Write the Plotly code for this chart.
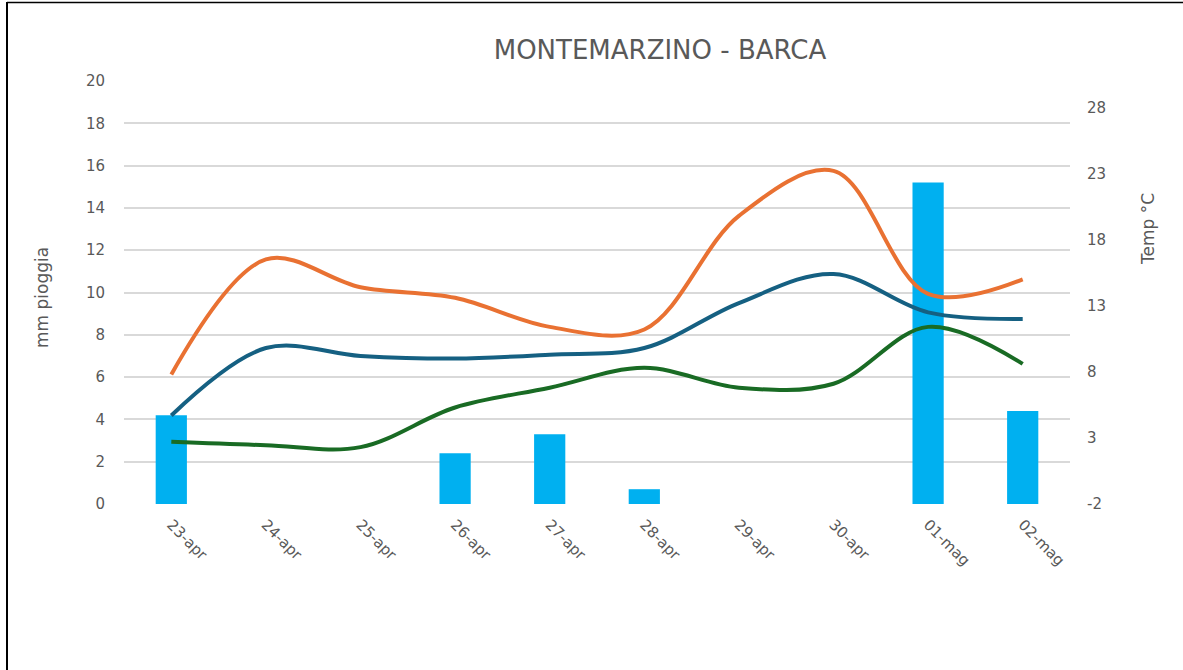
import plotly.graph_objects as go

dates = ["23-apr", "24-apr", "25-apr", "26-apr", "27-apr", "28-apr", "29-apr", "30-apr", "01-mag", "02-mag"]
rain_mm = [4.2, 0, 0, 2.4, 3.3, 0.7, 0, 0, 15.2, 4.4]
temp_max = [7.8, 16.5, 14.4, 13.6, 11.4, 11.2, 19.8, 23.2, 13.9, 15.0]
temp_avg = [4.7, 9.8, 9.2, 9.0, 9.3, 9.8, 13.2, 15.4, 12.5, 12.0]
temp_min = [2.7, 2.45, 2.3, 5.3, 6.8, 8.3, 6.8, 7.1, 11.4, 8.6]
temp_tickvals = [-2, 3, 8, 13, 18, 23, 28]
temp_ticktext = ["-2", "3", "8", "13", "18", "23", "28"]

W, H = 1183, 670
L, R, T, B = 124, 113, 81, 166
pw, ph = W - L - R, H - T - B

def px_x(px):
    return (px - L) / pw

def px_y(py):
    return (H - B - py) / ph

grey = "#595959"
font = "DejaVu Sans"

fig = go.Figure()
fig.add_trace(go.Bar(x=dates, y=rain_mm, marker=dict(color="#00B0F0", line=dict(width=0)),
                     width=0.33, name="mm pioggia", yaxis="y"))
for vals, col, nm in [(temp_max, "#E97132", "Tmax"),
                      (temp_avg, "#156082", "Tmed"),
                      (temp_min, "#196B24", "Tmin")]:
    fig.add_trace(go.Scatter(x=dates, y=vals, mode="lines", name=nm, yaxis="y2",
                             line=dict(color=col, width=4, shape="spline", smoothing=1.0)))

fig.update_layout(
    width=W, height=H,
    margin=dict(l=L, r=R, t=T, b=B, autoexpand=False),
    paper_bgcolor="white", plot_bgcolor="white",
    showlegend=False,
    font=dict(family=font, color=grey, size=15),
    title=dict(text="MONTEMARZINO - BARCA", x=660 / W, xanchor="center",
               y=1 - 50 / H, yanchor="middle",
               font=dict(size=26, color=grey, family=font)),
    xaxis=dict(type="category", tickangle=45, showgrid=False, zeroline=False,
               showline=False, ticks="", ticklabelstandoff=8,
               tickfont=dict(size=15, color=grey)),
    yaxis=dict(range=[0, 20], dtick=2, tick0=0, showgrid=True, gridcolor="#d9d9d9",
               gridwidth=1.5, zeroline=False, showline=False, ticks="",
               ticklabelstandoff=18, tickfont=dict(size=15, color=grey)),
    yaxis2=dict(range=[-2, 30], tickmode="array", tickvals=temp_tickvals,
                ticktext=temp_ticktext, overlaying="y", side="right",
                showgrid=False, zeroline=False, showline=False, ticks="",
                ticklabelstandoff=16, tickfont=dict(size=15, color=grey)),
    annotations=[
        dict(text="mm pioggia", xref="paper", yref="paper", x=px_x(42), y=px_y(298),
             xanchor="center", yanchor="middle", textangle=-90, showarrow=False,
             font=dict(size=17, color=grey, family=font)),
        dict(text="Temp °C", xref="paper", yref="paper", x=px_x(1148), y=px_y(229),
             xanchor="center", yanchor="middle", textangle=-90, showarrow=False,
             font=dict(size=17, color=grey, family=font)),
    ],
    shapes=[
        dict(type="line", xref="paper", yref="paper", x0=px_x(7), x1=px_x(7),
             y0=px_y(2), y1=px_y(H + 5), line=dict(color="black", width=2)),
        dict(type="line", xref="paper", yref="paper", x0=px_x(7), x1=px_x(W + 5),
             y0=px_y(2.5), y1=px_y(2.5), line=dict(color="black", width=1.5)),
    ],
)

fig.write_html("out.html", config={"displayModeBar": False},
               post_script="document.body.style.margin='0';document.body.style.padding='0';")
